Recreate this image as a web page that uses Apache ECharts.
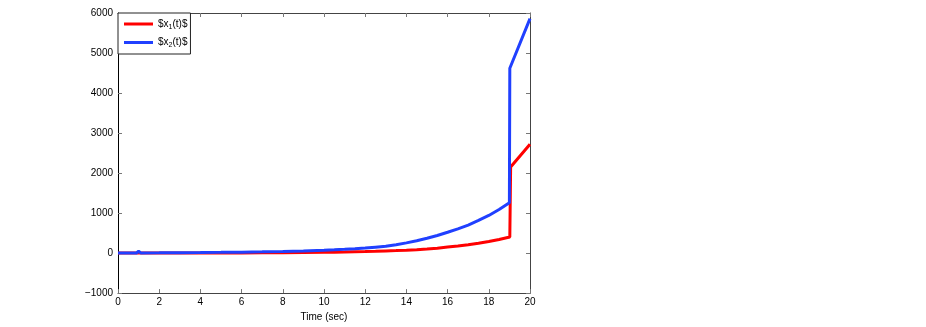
<!DOCTYPE html>
<html>
<head>
<meta charset="utf-8">
<script src="https://cdn.jsdelivr.net/npm/echarts@6/dist/echarts.min.js"></script>
<style>
  html, body { margin: 0; padding: 0; background: #fff; }
  #chart { width: 926px; height: 327px; }
</style>
</head>
<body>
<div id="chart"></div>
<script>
// time samples (sec) and values
const t1 = [0, 1, 2, 3, 4, 5, 6, 7, 8, 9, 10, 10.5, 11, 11.5, 12, 12.5, 13, 13.5, 14, 14.5, 15, 15.5, 16, 16.5, 17, 17.5, 18, 18.5, 19.02, 19.06, 20];
const x1 = [0, 0, 1, 2, 3, 4, 5, 7, 10, 14, 20, 24, 28, 34, 40, 47, 55, 63, 72, 85, 100, 122, 150, 178, 210, 247, 290, 340, 400, 2150, 2720];

const t2 = [0, 0.9, 1, 1.1, 2, 3, 4, 5, 6, 7, 8, 9, 10, 10.5, 11, 11.5, 12, 12.5, 13, 13.5, 14, 14.5, 15, 15.5, 16, 16.5, 17, 17.5, 18, 18.5, 19, 19.02, 20];
const x2 = [0, 3, 45, 4, 6, 9, 13, 18, 24, 32, 42, 55, 72, 83, 95, 109, 125, 148, 170, 210, 255, 310, 370, 440, 520, 605, 700, 815, 940, 1090, 1260, 4620, 5860];

const seriesNames = ['x1', 'x2'];
const xTicks = { min: 0, max: 20, step: 2 };
const yTicks = { min: -1000, max: 6000, step: 1000 };

function pairs(ts, vs) {
  return ts.map((t, i) => [t, vs[i]]);
}

const font = 'Liberation Sans, Arial, sans-serif';
const axisCol = '#444';

const chart = echarts.init(document.getElementById('chart'), null, { renderer: 'canvas' });

const baseX = {
  type: 'value', min: xTicks.min, max: xTicks.max, interval: xTicks.step,
  splitLine: { show: false },
  axisLine: { show: true, onZero: false, lineStyle: { color: axisCol, width: 1 } },
  axisTick: { show: true, inside: true, length: 4, lineStyle: { color: '#777' } }
};
const baseY = {
  type: 'value', min: yTicks.min, max: yTicks.max, interval: yTicks.step,
  splitLine: { show: false },
  axisLine: { show: true, onZero: false, lineStyle: { color: axisCol, width: 1 } },
  axisTick: { show: true, inside: true, length: 4, lineStyle: { color: '#777' } }
};

chart.setOption({
  animation: false,
  backgroundColor: '#fff',
  grid: { left: 118, right: 396, top: 13, bottom: 31 },
  legend: {
    left: 118, top: 13,
    orient: 'vertical',
    backgroundColor: '#fff',
    borderColor: '#222', borderWidth: 1, borderRadius: 0,
    padding: [6, 3, 5, 6],
    icon: 'rect',
    itemWidth: 29, itemHeight: 3, itemGap: 7,
    data: seriesNames,
    formatter: function (name) {
      return '{a|$x}{s|' + name.slice(1) + '}{a|(t)$}';
    },
    textStyle: {
      rich: {
        a: { fontFamily: font, fontSize: 10, color: '#000' },
        s: { fontFamily: font, fontSize: 7, color: '#000', verticalAlign: 'bottom', padding: [6, 0, 0, 0] }
      }
    }
  },
  xAxis: [
    Object.assign({}, baseX, {
      position: 'bottom',
      name: 'Time (sec)', nameLocation: 'middle', nameGap: 13,
      nameTextStyle: { fontFamily: font, fontSize: 10, color: '#000' },
      axisLabel: { fontFamily: font, fontSize: 10, color: '#000', margin: 4 }
    }),
    Object.assign({}, baseX, { position: 'top', axisLabel: { show: false } })
  ],
  yAxis: [
    Object.assign({}, baseY, {
      position: 'left',
      axisLine: { show: true, onZero: false, lineStyle: { color: '#000', width: 1 } },
      axisLabel: {
        fontFamily: font, fontSize: 10, color: '#000', margin: 5,
        formatter: v => (v < 0 ? '\u2212' + Math.abs(v) : String(v))
      }
    }),
    Object.assign({}, baseY, { position: 'right', axisLabel: { show: false } })
  ],
  series: [
    {
      name: seriesNames[0], type: 'line', symbol: 'none', z: 2,
      xAxisIndex: 0, yAxisIndex: 0,
      data: pairs(t1, x1),
      lineStyle: { color: '#ff0000', width: 3 },
      itemStyle: { color: '#ff0000' }
    },
    {
      name: seriesNames[1], type: 'line', symbol: 'none', z: 3,
      xAxisIndex: 0, yAxisIndex: 0,
      data: pairs(t2, x2),
      lineStyle: { color: '#2040ff', width: 3 },
      itemStyle: { color: '#2040ff' }
    }
  ]
});
</script>
</body>
</html>
